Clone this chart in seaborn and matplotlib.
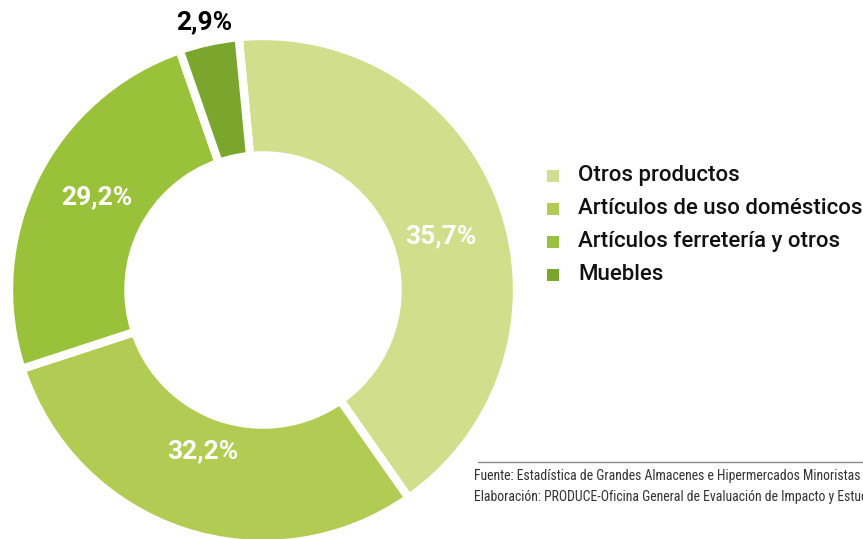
import matplotlib
matplotlib.use("Agg")
import matplotlib.pyplot as plt
import seaborn as sns
from matplotlib.patches import Rectangle
from matplotlib.lines import Line2D
from matplotlib import font_manager

# ---- data ----
categories = ["Otros productos", "Artículos de uso domésticos",
              "Artículos ferretería y otros", "Muebles"]
# wedge sizes as drawn in the reference picture
shares = [41.8, 29.7, 24.7, 3.8]
# percentages printed on the chart
pct_labels = ["35,7%", "32,2%", "29,2%", "2,9%"]
colors = ["#d1df8c", "#b2cc53", "#99c23a", "#7ba62e"]
source_lines = [
    "Fuente: Estadística de Grandes Almacenes e Hipermercados Minoristas",
    "Elaboración: PRODUCE-Oficina General de Evaluación de Impacto y Estudios Económicos",
]

sns.set_theme(style="white")
plt.rcParams['font.family'] = ['Roboto', 'DejaVu Sans']

W, H = 863, 539
fig = plt.figure(figsize=(W / 100, H / 100), dpi=100)
fig.patch.set_facecolor("white")


def px(x, y):
    return x / W, 1 - y / H


# ---- donut ----
cx, cy, R = 263, 290, 254
ax = fig.add_axes([(cx - R) / W, (H - cy - R) / H, 2 * R / W, 2 * R / H])
ax.pie(shares, colors=colors, startangle=95.5, counterclock=False, radius=1,
       wedgeprops=dict(width=0.47, edgecolor="white", linewidth=6))
ax.set_xlim(-1, 1)
ax.set_ylim(-1, 1)
ax.axis("off")

# ---- percentage labels ----
label_layout = [(441, 236, "white"), (203, 451, "white"),
                (97, 197, "white"), (204, 22, "black")]
for txt, (x, y, c) in zip(pct_labels, label_layout):
    fig.text(*px(x, y), txt, color=c, fontsize=19, fontweight="bold",
             ha="center", va="center")

# ---- legend ----
for i, (name, col) in enumerate(zip(categories, colors)):
    yc = 176 + 33 * i
    sq = 12
    fig.add_artist(Rectangle(px(547, yc + sq / 2), sq / W, sq / H,
                             transform=fig.transFigure, facecolor=col,
                             edgecolor="none"))
    fig.text(*px(578, yc - 1), name, fontsize=16, fontweight="medium",
             color="#111111", ha="left", va="center")

# ---- source ----
fig.add_artist(Line2D([478 / W, 1.0], [1 - 462 / H] * 2, color="#8a8a8a",
                      lw=1, transform=fig.transFigure))

narrow = None
for fam in ["Liberation Sans Narrow", "Roboto Condensed", "Open Sans Condensed"]:
    try:
        font_manager.findfont(font_manager.FontProperties(family=fam),
                              fallback_to_default=False)
        narrow = fam
        break
    except Exception:
        pass
src_props = dict(family=[narrow] if narrow else ["DejaVu Sans"],
                 fontstretch="condensed", color="#333333", ha="left",
                 va="center")

src_texts = []
for i, line in enumerate(source_lines):
    src_texts.append(fig.text(*px(474, 476 + 21 * i), line, fontsize=10,
                              **src_props))

# fit the first source line to the width it takes in the reference
renderer = fig.canvas.get_renderer()
w0 = src_texts[0].get_window_extent(renderer).width
scale = min(1.0, 386 / w0)
for t in src_texts:
    t.set_fontsize(10 * scale)

fig.savefig("out.png", dpi=100, facecolor="white")
